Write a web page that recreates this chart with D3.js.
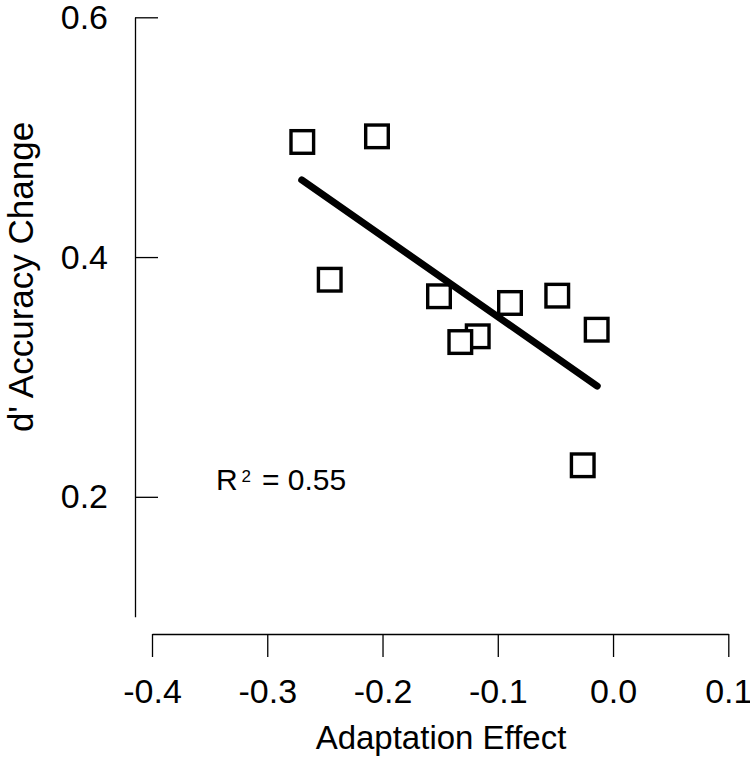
<!DOCTYPE html>
<html>
<head>
<meta charset="utf-8">
<script src="https://cdn.jsdelivr.net/npm/d3@7"></script>
<style>
  html, body { margin: 0; padding: 0; background: #fff; }
  svg { display: block; font-family: "Liberation Sans", Arial, sans-serif; }
</style>
</head>
<body>
<svg id="chart" width="750" height="757"></svg>
<script>
// ---- data ----
const adaptationEffect = [-0.2696, -0.2048, -0.2458, -0.151, -0.0894, -0.0484, -0.0142, -0.1174, -0.1325, -0.0263];
const accuracyChange   = [0.496, 0.5007, 0.3811, 0.3673, 0.3617, 0.3678, 0.3394, 0.3339, 0.3291, 0.2263];
const fitX = [-0.2701, -0.0137];
const fitY = [0.4643, 0.2924];
const xTicks = [-0.4, -0.3, -0.2, -0.1, 0.0, 0.1];
const yTicks = [0.2, 0.4, 0.6];
const xLabel = "Adaptation Effect";
const yLabel = "d' Accuracy Change";
const r2Text = "0.55";

// ---- scales ----
const svg = d3.select("#chart");
const x = d3.scaleLinear().domain([-0.4, 0.1]).range([152, 728.3]);
const y = d3.scaleLinear().domain([0.1, 0.6]).range([616.7, 17.3]);

const axisW = 1.3;
const fontSize = 34;

// x axis (line at y=634, ticks pointing down)
const xAxisG = svg.append("g").attr("transform", "translate(0,634)");
xAxisG.call(d3.axisBottom(x).tickValues(xTicks).tickSize(23).tickSizeOuter(0).tickFormat(d3.format(".1f")));
xAxisG.select(".domain").attr("stroke", "#000").attr("stroke-width", axisW);
xAxisG.selectAll(".tick line").attr("stroke", "#000").attr("stroke-width", axisW);
xAxisG.selectAll(".tick text")
  .attr("y", 68.7).attr("dy", null)
  .attr("font-size", fontSize).attr("font-family", "Liberation Sans, Arial, sans-serif")
  .attr("fill", "#000")
  .text(d => d3.format(".1f")(d).replace("−", "-"));

// y axis (line at x=135, ticks pointing right)
const yAxisG = svg.append("g").attr("transform", "translate(135,0)");
yAxisG.call(d3.axisRight(y).tickValues(yTicks).tickSize(23).tickSizeOuter(0).tickFormat(d3.format(".1f")));
yAxisG.select(".domain").attr("stroke", "#000").attr("stroke-width", axisW);
yAxisG.selectAll(".tick line").attr("stroke", "#000").attr("stroke-width", axisW);
yAxisG.selectAll(".tick text")
  .attr("x", -27).attr("dy", 11).attr("text-anchor", "end")
  .attr("font-size", fontSize).attr("font-family", "Liberation Sans, Arial, sans-serif")
  .attr("fill", "#000");

// axis titles
svg.append("text")
  .attr("x", 441).attr("y", 749)
  .attr("text-anchor", "middle")
  .attr("font-size", 33)
  .attr("fill", "#000")
  .text(xLabel);

svg.append("text")
  .attr("transform", "translate(33,277) rotate(-90)")
  .attr("text-anchor", "middle")
  .attr("font-size", 35)
  .attr("fill", "#000")
  .text(yLabel);

// points (hollow squares, white fill)
const pts = adaptationEffect.map((v, i) => ({ x: v, y: accuracyChange[i] }));
const side = 22.6;
svg.append("g").selectAll("rect").data(pts).enter().append("rect")
  .attr("x", d => x(d.x) - side / 2)
  .attr("y", d => y(d.y) - side / 2)
  .attr("width", side).attr("height", side)
  .attr("fill", "#fff")
  .attr("stroke", "#000")
  .attr("stroke-width", 3.4);

// regression line
const fit = fitX.map((v, i) => [v, fitY[i]]);
svg.append("path")
  .datum(fit)
  .attr("d", d3.line().x(d => x(d[0])).y(d => y(d[1])))
  .attr("fill", "none")
  .attr("stroke", "#000")
  .attr("stroke-width", 7)
  .attr("stroke-linecap", "round");

// R^2 annotation
const r2 = svg.append("text")
  .attr("x", 216).attr("y", 490)
  .attr("font-size", 30)
  .attr("fill", "#000");
r2.append("tspan").text("R");
r2.append("tspan").attr("x", 241.5).attr("dy", -8).attr("font-size", 17).text("2");
r2.append("tspan").attr("x", 262).attr("dy", 8).text("= " + r2Text);
</script>
</body>
</html>
